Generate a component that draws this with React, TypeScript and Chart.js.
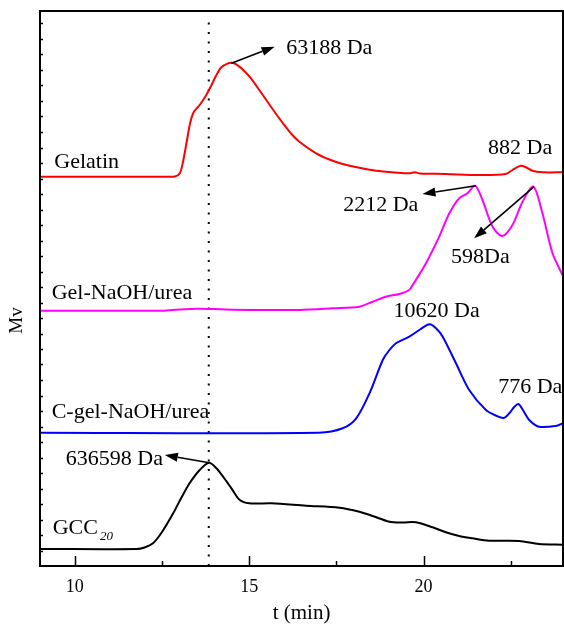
import React, { useEffect, useRef } from 'react';
import { Chart, registerables } from 'chart.js';

Chart.register(...registerables);

const FONT = "'Liberation Serif', 'Times New Roman', serif";

// Retention time (min) and detector response (Mv, arbitrary units, stacked offsets included)
const gelatinT = [9, 12.6, 12.87, 13.01, 13.1, 13.2, 13.3, 13.39, 13.49, 13.58, 13.77, 13.92, 14.06, 14.2, 14.39, 14.5, 14.63, 14.8, 15.01, 15.25, 15.49, 15.73, 15.97, 16.2, 16.44, 16.92, 17.3, 17.68, 18.2, 18.64, 19.2, 19.59, 19.75, 19.9, 20.64, 21.6, 22.36, 22.55, 22.79, 22.95, 23.12, 23.41, 24];
const gelatinV = [389.3, 389.3, 389.5, 392.7, 404, 422.7, 442, 452.7, 457.5, 461, 471, 481, 491, 498.7, 502.7, 503.3, 501.7, 497, 489.3, 478, 466, 454, 442.7, 432.5, 424.3, 412.7, 406.5, 402, 398, 395.3, 393.5, 392.7, 393.8, 392.5, 392, 391, 392, 396, 400.3, 398.5, 395.3, 393.7, 393.7];

const gelNaohT = [9, 12.5, 13.0, 13.5, 14.0, 14.5, 15.5, 16.44, 17.4, 18.16, 18.54, 18.92, 19.31, 19.59, 19.69, 20.07, 20.45, 20.74, 21.02, 21.26, 21.48, 21.69, 21.98, 22.26, 22.55, 22.84, 23.15, 23.41, 23.7, 24];
const gelNaohV = [255.3, 255.3, 256.5, 257.3, 257, 256.3, 256, 256, 257.7, 259.3, 264.3, 269.3, 272, 276, 281, 302.7, 329.3, 352.7, 367.7, 372.7, 380.3, 366, 339.3, 330, 341, 364.3, 379.3, 352.7, 312.7, 290];

const cGelT = [9, 17.0, 17.68, 18.07, 18.45, 18.83, 19.0, 19.21, 19.59, 19.9, 20.17, 20.35, 20.55, 20.93, 21.31, 21.79, 22.1, 22.3, 22.46, 22.6, 22.72, 22.85, 23.03, 23.31, 23.79, 24];
const cGelV = [133.3, 133.3, 137.7, 147.7, 172.7, 206, 215, 222.7, 229.3, 236.5, 241.7, 238, 229.3, 202.7, 176, 156, 150, 148, 152.7, 159, 162, 156, 146, 139.3, 140, 142.7];

const gccT = [9, 11.77, 12.0, 12.24, 12.5, 12.82, 13.05, 13.29, 13.58, 13.85, 14.06, 14.25, 14.49, 14.73, 15.0, 15.64, 16.63, 17.59, 18.16, 18.54, 19.02, 19.4, 19.78, 20.26, 20.64, 21.02, 21.4, 21.88, 22.74, 23.31, 24];
const gccV = [17, 17, 18.5, 22.7, 34, 52.7, 68, 82.7, 96, 103.3, 97.7, 89.3, 77.7, 66, 62.7, 62.7, 60.3, 58.3, 54.3, 50, 44.3, 43.5, 43.7, 38.7, 33.7, 30, 27.7, 25.3, 25, 22, 21.3];

const xTicks = [10, 15, 20];
const xMinorTicks = [12.5, 17.5, 22.5];
const markerT = [13.84, 13.84];
const markerV = [0, 544];

type Label = { text: string; t: number; v: number; align?: CanvasTextAlign; sub?: string };
const labels: Label[] = [
  { text: 'Gelatin', t: 9.41, v: 398.3 },
  { text: 'Gel-NaOH/urea', t: 9.335, v: 266.7 },
  { text: 'C-gel-NaOH/urea', t: 9.335, v: 148.3 },
  { text: 'GCC', t: 9.364, v: 32, sub: '20' },
  { text: '63188 Da', t: 16.06, v: 511.7 },
  { text: '882 Da', t: 21.85, v: 411.7 },
  { text: '2212 Da', t: 19.85, v: 355, align: 'right' },
  { text: '598Da', t: 20.79, v: 303.3 },
  { text: '10620 Da', t: 19.14, v: 249.3 },
  { text: '776 Da', t: 22.14, v: 173.3 },
  { text: '636598 Da', t: 9.74, v: 100.7 },
];

const arrows = [
  { from: [14.49, 502.7], to: [15.73, 519.3] },
  { from: [21.5, 380.3], to: [19.97, 372] },
  { from: [23.17, 379.3], to: [21.45, 327.7] },
  { from: [13.85, 103.3], to: [12.58, 111] },
];

const yMinorStep = 15.5;

const toPts = (t: number[], v: number[]) => t.map((x, i) => ({ x, y: v[i] }));

const annoPlugin = {
  id: 'annos',
  afterDatasetsDraw(chart: any) {
    const { ctx, chartArea: a, scales } = chart;
    const x = scales.x;
    const y = scales.y;
    ctx.save();
    // frame
    ctx.strokeStyle = '#000';
    ctx.lineWidth = 2;
    ctx.strokeRect(a.left, a.top, a.right - a.left, a.bottom - a.top);
    // inward x ticks
    ctx.lineWidth = 1.5;
    ctx.beginPath();
    xTicks.forEach((t) => {
      const px = Math.round(x.getPixelForValue(t)) + 0.5;
      ctx.moveTo(px, a.bottom);
      ctx.lineTo(px, a.bottom - 10);
    });
    xMinorTicks.forEach((t) => {
      const px = Math.round(x.getPixelForValue(t)) + 0.5;
      ctx.moveTo(px, a.bottom);
      ctx.lineTo(px, a.bottom - 5);
    });
    // inward y minor ticks
    for (let v = yMinorStep; v < 555; v += yMinorStep) {
      const py = Math.round(y.getPixelForValue(v)) + 0.5;
      ctx.moveTo(a.left, py);
      ctx.lineTo(a.left + 3, py);
    }
    ctx.stroke();

    // arrows
    ctx.fillStyle = '#000';
    ctx.strokeStyle = '#000';
    ctx.lineWidth = 1.6;
    arrows.forEach((ar) => {
      const x1 = x.getPixelForValue(ar.from[0]);
      const y1 = y.getPixelForValue(ar.from[1]);
      const x2 = x.getPixelForValue(ar.to[0]);
      const y2 = y.getPixelForValue(ar.to[1]);
      const ang = Math.atan2(y2 - y1, x2 - x1);
      const len = 13;
      const hw = 4.5;
      const bx = x2 - len * Math.cos(ang);
      const by = y2 - len * Math.sin(ang);
      ctx.beginPath();
      ctx.moveTo(x1, y1);
      ctx.lineTo(bx, by);
      ctx.stroke();
      ctx.beginPath();
      ctx.moveTo(x2, y2);
      ctx.lineTo(bx + hw * Math.sin(ang), by - hw * Math.cos(ang));
      ctx.lineTo(bx - hw * Math.sin(ang), by + hw * Math.cos(ang));
      ctx.closePath();
      ctx.fill();
    });

    // labels
    ctx.textBaseline = 'alphabetic';
    labels.forEach((l) => {
      const px = x.getPixelForValue(l.t);
      const py = y.getPixelForValue(l.v);
      ctx.font = `22px ${FONT}`;
      ctx.textAlign = l.align || 'left';
      ctx.fillText(l.text, px, py);
      if (l.sub) {
        const w = ctx.measureText(l.text).width;
        ctx.font = `italic 13px ${FONT}`;
        ctx.textAlign = 'left';
        ctx.fillText(l.sub, px + w + 2, py + 6);
      }
    });

    // y-axis title
    ctx.save();
    ctx.translate(17.5, y.getPixelForValue(245.5));
    ctx.rotate(-Math.PI / 2);
    ctx.font = `19px ${FONT}`;
    ctx.textAlign = 'center';
    ctx.textBaseline = 'middle';
    ctx.fillText('Mv', 0, 0);
    ctx.restore();

    ctx.restore();
  },
};

export default function App() {
  const ref = useRef<HTMLCanvasElement | null>(null);
  useEffect(() => {
    document.body.style.margin = '0';
    const canvas = ref.current;
    if (!canvas) return;
    const common = {
      borderWidth: 2,
      pointRadius: 0,
      fill: false,
      tension: 0.3,
    };
    const chart = new Chart(canvas, {
      type: 'line',
      data: {
        datasets: [
          { ...common, label: 'Gelatin', data: toPts(gelatinT, gelatinV), borderColor: '#ff0000' },
          { ...common, label: 'Gel-NaOH/urea', data: toPts(gelNaohT, gelNaohV), borderColor: '#ff00ff' },
          { ...common, label: 'C-gel-NaOH/urea', data: toPts(cGelT, cGelV), borderColor: '#0000ff' },
          { ...common, label: 'GCC20', data: toPts(gccT, gccV), borderColor: '#000000' },
          {
            label: 'marker',
            data: toPts(markerT, markerV),
            borderColor: '#000',
            borderWidth: 2,
            borderDash: [2, 7.5],
            pointRadius: 0,
            tension: 0,
            fill: false,
          },
        ],
      },
      options: {
        responsive: false,
        animation: false,
        layout: { padding: { top: 11, right: 1, left: 0, bottom: 0 } },
        plugins: { legend: { display: false }, tooltip: { enabled: false } },
        scales: {
          x: {
            type: 'linear',
            min: 9,
            max: 24,
            grid: { display: false, drawTicks: false },
            border: { display: false },
            ticks: {
              font: { family: FONT, size: 18 },
              color: '#000',
              padding: 10.5,
              maxRotation: 0,
              autoSkip: false,
            },
            afterBuildTicks: (s: any) => {
              s.ticks = xTicks.map((v) => ({ value: v }));
            },
            afterFit: (s: any) => {
              s.height = 61;
            },
            title: {
              display: true,
              text: 't (min)',
              color: '#000',
              font: { family: FONT, size: 21 },
              padding: { top: 0, bottom: 1 },
            },
          },
          y: {
            type: 'linear',
            min: 0,
            max: 555,
            grid: { display: false, drawTicks: false },
            border: { display: false },
            ticks: { display: false },
            afterFit: (s: any) => {
              s.width = 40;
            },
          },
        },
      },
      plugins: [annoPlugin],
    });
    return () => chart.destroy();
  }, []);
  return <canvas ref={ref} width={564} height={627} style={{ display: 'block' }} />;
}
